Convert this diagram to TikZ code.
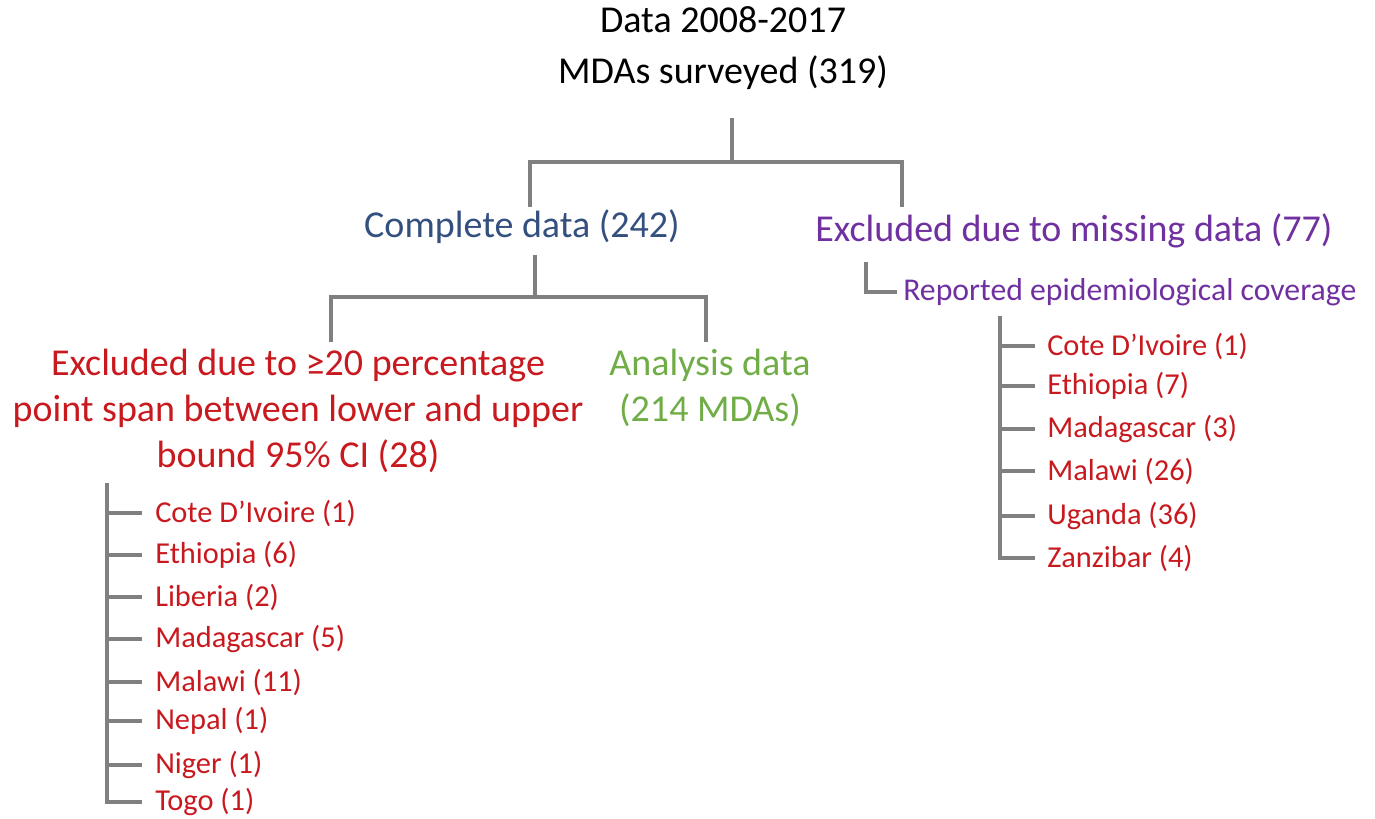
\documentclass[tikz,border=0pt]{standalone}
\usepackage{fontspec}
\setmainfont{Carlito}
\usepackage{tikz}
\usetikzlibrary{positioning,calc}
\usepackage{xcolor}

\definecolor{linkgray}{HTML}{808080}
\definecolor{navytxt}{HTML}{34507F}
\definecolor{purpletxt}{HTML}{7030A0}
\definecolor{greentxt}{HTML}{70AD47}
\definecolor{redtxt}{HTML}{C8191E}

\begin{document}
\begin{tikzpicture}[x=0.75pt, y=-0.75pt,
    link/.style={draw=linkgray, line width=2.6pt},
    bigtxt/.style={font=\fontsize{28.5}{34.5}\selectfont, align=center, inner sep=0pt},
    subtxt/.style={font=\fontsize{23.8}{28}\selectfont, inner sep=0pt, anchor=west},
    itemtxt/.style={font=\fontsize{22.8}{27}\selectfont, text=redtxt, inner sep=0pt, anchor=west}]

    \useasboundingbox (0,0) rectangle (1375,818);

    % ---- top level ----
    \node[bigtxt, font=\fontsize{28.5}{38.25}\selectfont] (root) at (723,48) {Data 2008-2017\\MDAs surveyed (319)};
    \coordinate (r0) at (732,118);
    \coordinate (r1) at (732,162);

    % ---- second level ----
    \node[bigtxt, text=navytxt] (cd) at (522,227) {Complete data (242)};
    \node[bigtxt, text=purpletxt] (ex) at (1074,231) {Excluded due to missing data (77)};
    \coordinate (cstem) at (530,207);
    \coordinate (xstem) at (902,207);

    \draw[link] (r0) -- (r1);
    \draw[link] (cstem) -- (cstem |- r1) -- (xstem |- r1) -- (xstem);

    % ---- complete data split ----
    \coordinate (c0) at (535,255);
    \coordinate (c1) at (535,297);
    \coordinate (lstem) at (331,342);
    \coordinate (astem) at (706,342);
    \node[bigtxt, text=redtxt] (ci) at (298,411) {Excluded due to ≥20 percentage\\point span between lower and upper\\bound 95\% CI (28)};
    \node[bigtxt, text=greentxt] (an) at (710,388) {Analysis data\\(214 MDAs)};

    \draw[link] (c0) -- (c1);
    \draw[link] (lstem) -- (lstem |- c1) -- (astem |- c1) -- (astem);

    % ---- missing data branch ----
    \node[subtxt, text=purpletxt] (rep) at (903,292) {Reported epidemiological coverage};
    \coordinate (rp0) at (866,262);
    \draw[link] (rp0) |- ([xshift=-4.5pt]rep.west);

    % ---- left country list ----
    \coordinate (spL) at (107,483);
    \foreach \cname/\yy [count=\i] in {Cote D’Ivoire (1)/513, Ethiopia (6)/555, Liberia (2)/597,
        Madagascar (5)/639, Malawi (11)/682, Nepal (1)/721, Niger (1)/765, Togo (1)/802} {
        \node[itemtxt] (l\i) at (155,\yy) {\cname};
    }
    \foreach \i in {1,...,7} {
        \draw[link] (spL |- l\i.west) -- ++(35,0);
    }
    \draw[link] (spL) |- ([xshift=-9.75pt]l8.west);

    % ---- right country list ----
    \coordinate (spR) at (1000,316);
    \foreach \cname/\yy [count=\i] in {Cote D’Ivoire (1)/346, Ethiopia (7)/386, Madagascar (3)/429,
        Malawi (26)/471, Uganda (36)/516, Zanzibar (4)/558} {
        \node[itemtxt] (m\i) at (1047,\yy) {\cname};
    }
    \foreach \i in {1,...,5} {
        \draw[link] (spR |- m\i.west) -- ++(35,0);
    }
    \draw[link] (spR) |- ([xshift=-9pt]m6.west);

\end{tikzpicture}
\end{document}
